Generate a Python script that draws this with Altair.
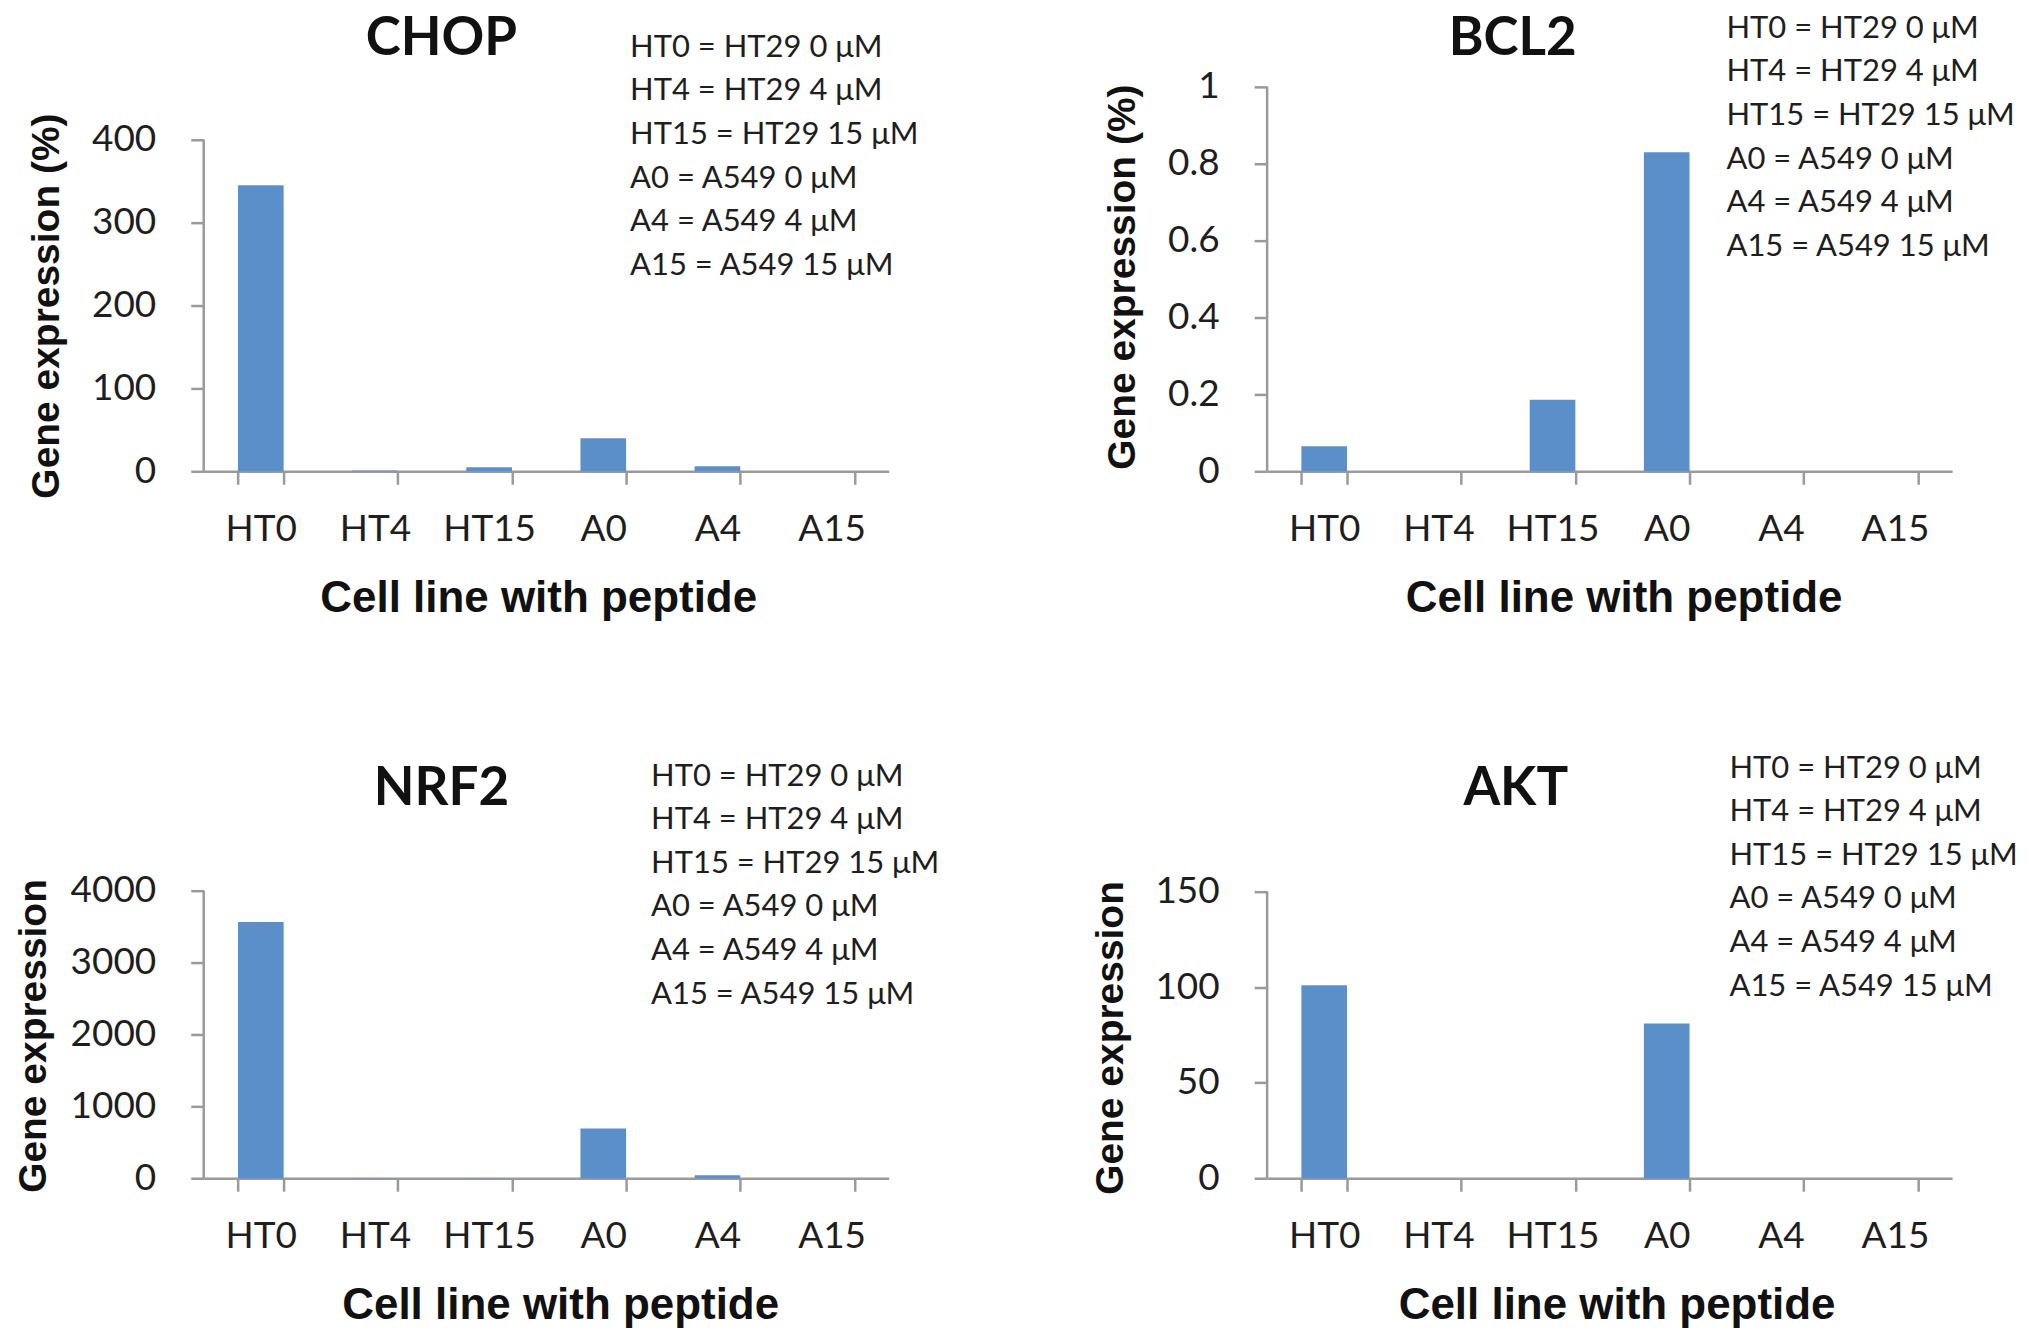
import altair as alt
import pandas as pd

categories = ["HT0", "HT4", "HT15", "A0", "A4", "A15"]

chop = [345, 1, 5, 40, 6, 0]
bcl2 = [0.065, 0, 0.186, 0.83, 0, 0]
nrf2 = [3565, 3, 3, 692, 40, 0]
akt = [101, 0, 0, 81, 0, 0]

chop_ticks = [0, 100, 200, 300, 400]
bcl2_ticks = [0, 0.2, 0.4, 0.6, 0.8, 1]
nrf2_ticks = [0, 1000, 2000, 3000, 4000]
akt_ticks = [0, 50, 100, 150]

key_lines = ["HT0 = HT29 0 μM", "HT4 = HT29 4 μM", "HT15 = HT29 15 μM",
             "A0 = A549 0 μM", "A4 = A549 4 μM", "A15 = A549 15 μM"]

x_title = "Cell line with peptide"

W, H = 686, 455
BAR = "#5B8FC9"
GREY = "#9a9a9a"
INK = "#1e1e1e"


def panel(name, values, ticks, y_title, lay):
    df = pd.DataFrame({"cell": categories, "value": values})
    # stretch the scale so the top tick lands where it does in the figure
    top = ticks[-1] * H / (H - lay["tick_top"])
    y_scale = alt.Scale(domain=[0, top], nice=False, zero=True)

    bars = alt.Chart(df).mark_bar(color=BAR).encode(
        x=alt.X("cell:N", sort=categories,
                scale=alt.Scale(paddingInner=0.6, paddingOuter=0.3),
                axis=alt.Axis(title=x_title, titleX=lay["xt"], titleY=127,
                              titleBaseline="middle", titleAlign="center")),
        y=alt.Y("value:Q", scale=y_scale,
                axis=alt.Axis(values=ticks, format="~r", domain=False, grid=False,
                              title=y_title, titleX=lay["yt"][0], titleY=lay["yt"][1],
                              titleAngle=-90, titleAlign="center",
                              titleBaseline="middle")),
    )

    one = pd.DataFrame({"t": [name]})
    axis_line = alt.Chart(one).mark_rule(color=GREY, strokeWidth=2.5).encode(
        x=alt.value(0), y=alt.datum(0), y2=alt.datum(ticks[-1])
    )
    title = alt.Chart(one).mark_text(
        font="Lato", fontWeight="bold", fontSize=53, color="#111", align="center",
        baseline="middle"
    ).encode(x=alt.value(lay["title"][0]), y=alt.value(lay["title"][1]), text="t:N")
    key = alt.Chart(one).mark_text(
        font="Lato", fontSize=31, color=INK, align="left", baseline="middle",
        lineHeight=43.6
    ).encode(x=alt.value(lay["key"][0]), y=alt.value(lay["key"][1]),
             text=alt.value(key_lines))

    return alt.layer(bars, axis_line, title, key).properties(width=W, height=H)


chart = alt.concat(
    panel("CHOP", chop, chop_ticks, "Gene expression (%)",
          {"tick_top": 123, "xt": 335, "yt": (-157, 289),
           "title": (238, 22), "key": (427, 31)}),
    panel("BCL2", bcl2, bcl2_ticks, "Gene expression (%)",
          {"tick_top": 70, "xt": 357, "yt": (-145, 260),
           "title": (246, 22), "key": (460, 12)}),
    panel("NRF2", nrf2, nrf2_ticks, "Gene expression",
          {"tick_top": 167, "xt": 357, "yt": (-170, 312),
           "title": (238, 65), "key": (448, 53)}),
    panel("AKT", akt, akt_ticks, "Gene expression",
          {"tick_top": 168, "xt": 350, "yt": (-157, 314),
           "title": (249, 65), "key": (463, 45)}),
    columns=2,
    spacing={"row": 253, "column": 379},
    bounds="flush",
).properties(
    padding={"left": 7, "top": 4, "right": 5, "bottom": 5}
).configure_view(
    stroke=None
).configure_axis(
    labelFont="Lato", labelFontSize=37, labelColor=INK,
    titleFont="Liberation Sans", titleFontWeight="bold", titleColor="#111",
    domainColor=GREY, domainWidth=2.5, tickColor=GREY, tickWidth=2.5, tickSize=13,
).configure_axisY(
    labelPadding=35, titleFontSize=39
).configure_axisX(
    labelAngle=0, labelPadding=27, tickBand="extent", titleFontSize=44
)

chart.save("out.html", embed_options={"renderer": "svg", "actions": False})
